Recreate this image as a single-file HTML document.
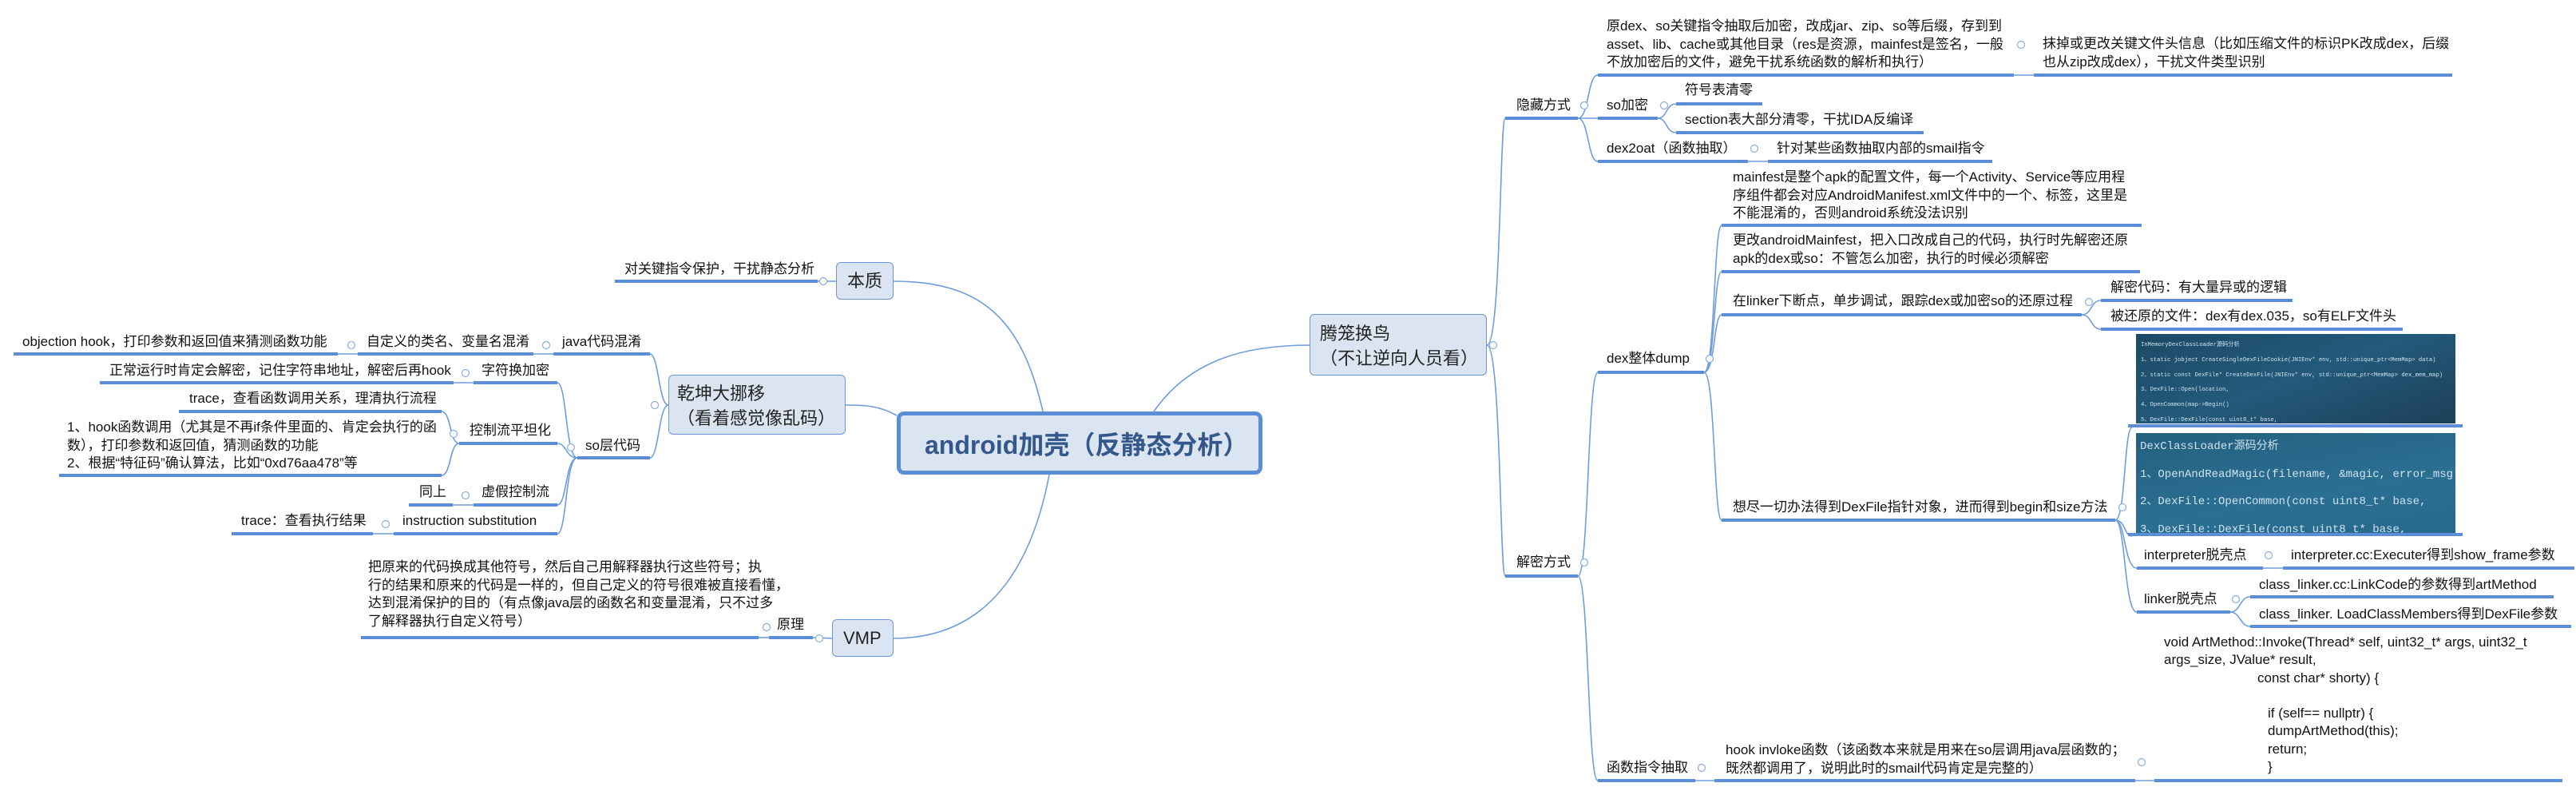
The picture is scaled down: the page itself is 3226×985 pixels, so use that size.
<!DOCTYPE html>
<html><head><meta charset="utf-8">
<style>
html,body{margin:0;padding:0;background:#fff;}
body{width:3226px;height:985px;position:relative;overflow:hidden;font-family:"Liberation Sans","Noto Sans CJK SC",sans-serif;}
.t{position:absolute;font-size:17px;line-height:22.5px;color:#111;white-space:nowrap;}
.u{position:absolute;height:4px;background:#5b8ed6;}
.box{position:absolute;background:#dbe5f1;border:1.5px solid #6b97d8;border-radius:6px;box-sizing:border-box;color:#222;font-size:22px;line-height:30px;white-space:nowrap;}
.img{position:absolute;overflow:hidden;font-family:"Liberation Mono","Noto Sans CJK SC",monospace;color:#cfe3ef;white-space:nowrap;}
svg{position:absolute;left:0;top:0;}
</style></head><body>
<svg width="3226" height="985" fill="none" stroke="#6f9ddc" stroke-width="1.6">
<path d="M1306 515 C1280 400 1230 352 1119 352"/>
<path d="M1314 594 C1290 720 1230 799 1119 799"/>
<path d="M1445 515 C1490 450 1560 432 1640 432"/>
<path d="M1123 520 C1100 507 1080 507 1059 507"/>
<path d="M1047 352 L1024 352"/>
<path d="M837 507 C825 507 825 443 814 443"/>
<path d="M837 507 C825 507 825 573 814 573"/>
<path d="M693 443 L668 443"/>
<path d="M448 443 L423 443"/>
<path d="M723 573 C708 573 710 479 698 479"/>
<path d="M723 573 C708 573 710 555 698 555"/>
<path d="M723 573 C708 573 710 632 698 632"/>
<path d="M723 573 C708 573 710 668 698 668"/>
<path d="M593 479 L568 479"/>
<path d="M575 555 C563 555 565 515 553 515"/>
<path d="M575 555 C563 555 565 595 553 595"/>
<path d="M593 632 L567 632"/>
<path d="M493 668 L467 668"/>
<path d="M1042 799 L1018 798"/>
<path d="M963 798 L950 798"/>
<path d="M1862 432 C1880 432 1878 148 1885 148"/>
<path d="M1862 432 C1880 432 1878 721 1885 721"/>
<path d="M1976 148 C1990 148 1988 94 2001 94"/>
<path d="M1976 148 L2001 148"/>
<path d="M1976 148 C1990 148 1988 202 2001 202"/>
<path d="M2522 94 L2547 94"/>
<path d="M2076 148 C2088 148 2086 130 2099 130"/>
<path d="M2076 148 C2088 148 2086 166 2099 166"/>
<path d="M2189 202 L2214 202"/>
<path d="M1976 721 C1990 721 1988 466 2001 466"/>
<path d="M1976 721 C1990 721 1988 977 2001 977"/>
<path d="M2134 466 C2148 466 2146 282 2156 282"/>
<path d="M2134 466 C2148 466 2146 340 2156 340"/>
<path d="M2134 466 C2148 466 2146 394 2156 394"/>
<path d="M2134 466 C2148 466 2146 651 2156 651"/>
<path d="M2607 394 C2620 394 2618 376 2631 376"/>
<path d="M2607 394 C2620 394 2618 412 2631 412"/>
<path d="M2649 651 C2662 651 2660 535 2670 535"/>
<path d="M2649 651 C2662 651 2660 671 2670 671"/>
<path d="M2649 651 C2662 651 2660 711 2676 711"/>
<path d="M2649 651 C2662 651 2660 766 2676 766"/>
<path d="M2834 711 L2859 711"/>
<path d="M2793 766 C2806 766 2805 747 2818 747"/>
<path d="M2793 766 C2806 766 2805 784 2818 784"/>
<path d="M2123 977 L2147 977"/>
<path d="M2674 977 L2698 977"/>
<g stroke="#8aaee0" stroke-width="1.2" fill="#fff">
<circle cx="1031" cy="352" r="4.5"/><circle cx="820" cy="507" r="4.5"/><circle cx="684" cy="432" r="4.5"/><circle cx="440" cy="432" r="4.5"/>
<circle cx="715" cy="560" r="4.5"/><circle cx="583" cy="467" r="4.5"/><circle cx="568" cy="543" r="4.5"/><circle cx="583" cy="620" r="4.5"/><circle cx="483" cy="656" r="4.5"/><circle cx="1026" cy="799" r="4.5"/><circle cx="960" cy="785" r="4.5"/>
<circle cx="1870" cy="432" r="4.5"/><circle cx="1984" cy="132" r="4.5"/><circle cx="1984" cy="704" r="4.5"/><circle cx="2531" cy="56" r="4.5"/><circle cx="2084" cy="132" r="4.5"/><circle cx="2197" cy="186" r="4.5"/>
<circle cx="2141" cy="449" r="4.5"/><circle cx="2616" cy="378" r="4.5"/><circle cx="2658" cy="635" r="4.5"/><circle cx="2841" cy="695" r="4.5"/><circle cx="2800" cy="750" r="4.5"/><circle cx="2131" cy="961" r="4.5"/><circle cx="2682" cy="954" r="4.5"/>
</g>
</svg>

<div class="box" style="left:1123px;top:515px;width:458px;height:79px;border:5px solid #5b8ed6;border-radius:9px;"><div style="position:absolute;left:30px;top:17px;font-size:32px;line-height:40px;font-weight:bold;color:#34578c;">android加壳（反静态分析）</div></div>
<div class="box" style="left:1047px;top:328px;width:72px;height:47px;"><div style="position:absolute;left:13px;top:8px;">本质</div></div>
<div class="box" style="left:837px;top:469px;width:222px;height:75px;"><div style="position:absolute;left:10px;top:7px;line-height:31px;">乾坤大挪移<br>（看着感觉像乱码）</div></div>
<div class="box" style="left:1042px;top:775px;width:77px;height:47px;"><div style="position:absolute;left:13px;top:8px;">VMP</div></div>
<div class="box" style="left:1640px;top:393px;width:222px;height:77px;"><div style="position:absolute;left:12px;top:8px;line-height:31px;">腾笼换鸟<br>（不让逆向人员看）</div></div>

<div class="t" style="left:782px;top:326px;">对关键指令保护，干扰静态分析</div><div class="u" style="left:770px;width:254px;top:350px;"></div>
<div class="t" style="left:28px;top:417px;">objection hook，打印参数和返回值来猜测函数功能</div><div class="u" style="left:17px;width:406px;top:441px;"></div>
<div class="t" style="left:459px;top:417px;">自定义的类名、变量名混淆</div><div class="u" style="left:448px;width:220px;top:441px;"></div>
<div class="t" style="left:704px;top:417px;">java代码混淆</div><div class="u" style="left:693px;width:121px;top:441px;"></div>
<div class="t" style="left:137px;top:453px;">正常运行时肯定会解密，记住字符串地址，解密后再hook</div><div class="u" style="left:125px;width:443px;top:477px;"></div>
<div class="t" style="left:603px;top:453px;">字符换加密</div><div class="u" style="left:593px;width:105px;top:477px;"></div>
<div class="t" style="left:237px;top:488px;">trace，查看函数调用关系，理清执行流程</div><div class="u" style="left:224px;width:329px;top:513px;"></div>
<div class="t" style="left:84px;top:524px;">1、hook函数调用（尤其是不再if条件里面的、肯定会执行的函<br>数），打印参数和返回值，猜测函数的功能<br>2、根据“特征码”确认算法，比如“0xd76aa478”等</div><div class="u" style="left:74px;width:479px;top:593px;"></div>
<div class="t" style="left:588px;top:528px;">控制流平坦化</div><div class="u" style="left:575px;width:123px;top:553px;"></div>
<div class="t" style="left:733px;top:547px;">so层代码</div><div class="u" style="left:723px;width:91px;top:571px;"></div>
<div class="t" style="left:525px;top:605px;">同上</div><div class="u" style="left:512px;width:55px;top:630px;"></div>
<div class="t" style="left:603px;top:605px;">虚假控制流</div><div class="u" style="left:593px;width:105px;top:630px;"></div>
<div class="t" style="left:302px;top:641px;">trace：查看执行结果</div><div class="u" style="left:290px;width:177px;top:666px;"></div>
<div class="t" style="left:504px;top:641px;">instruction substitution</div><div class="u" style="left:493px;width:205px;top:666px;"></div>
<div class="t" style="left:461px;top:699px;">把原来的代码换成其他符号，然后自己用解释器执行这些符号；执<br>行的结果和原来的代码是一样的，但自己定义的符号很难被直接看懂，<br>达到混淆保护的目的（有点像java层的函数名和变量混淆，只不过多<br>了解释器执行自定义符号）</div><div class="u" style="left:452px;width:498px;top:796px;"></div>
<div class="t" style="left:973px;top:771px;">原理</div><div class="u" style="left:963px;width:55px;top:796px;"></div>

<div class="t" style="left:1899px;top:121px;">隐藏方式</div><div class="u" style="left:1885px;width:91px;top:146px;"></div>
<div class="t" style="left:2012px;top:22px;">原dex、so关键指令抽取后加密，改成jar、zip、so等后缀，存到到<br>asset、lib、cache或其他目录（res是资源，mainfest是签名，一般<br>不放加密后的文件，避免干扰系统函数的解析和执行）</div><div class="u" style="left:2001px;width:521px;top:92px;"></div>
<div class="t" style="left:2558px;top:44px;">抹掉或更改关键文件头信息（比如压缩文件的标识PK改成dex，后缀<br>也从zip改成dex），干扰文件类型识别</div><div class="u" style="left:2547px;width:524px;top:92px;"></div>
<div class="t" style="left:2012px;top:121px;">so加密</div><div class="u" style="left:2001px;width:75px;top:146px;"></div>
<div class="t" style="left:2110px;top:102px;">符号表清零</div><div class="u" style="left:2099px;width:108px;top:128px;"></div>
<div class="t" style="left:2110px;top:139px;">section表大部分清零，干扰IDA反编译</div><div class="u" style="left:2099px;width:310px;top:164px;"></div>
<div class="t" style="left:2012px;top:175px;">dex2oat（函数抽取）</div><div class="u" style="left:2001px;width:188px;top:200px;"></div>
<div class="t" style="left:2225px;top:175px;">针对某些函数抽取内部的smail指令</div><div class="u" style="left:2214px;width:281px;top:200px;"></div>
<div class="t" style="left:2170px;top:211px;">mainfest是整个apk的配置文件，每一个Activity、Service等应用程<br>序组件都会对应AndroidManifest.xml文件中的一个、标签，这里是<br>不能混淆的，否则android系统没法识别</div><div class="u" style="left:2156px;width:526px;top:280px;"></div>
<div class="t" style="left:2170px;top:290px;">更改androidMainfest，把入口改成自己的代码，执行时先解密还原<br>apk的dex或so：不管怎么加密，执行的时候必须解密</div><div class="u" style="left:2156px;width:524px;top:338px;"></div>
<div class="t" style="left:2170px;top:366px;">在linker下断点，单步调试，跟踪dex或加密so的还原过程</div><div class="u" style="left:2156px;width:451px;top:392px;"></div>
<div class="t" style="left:2643px;top:349px;">解密代码：有大量异或的逻辑</div><div class="u" style="left:2631px;width:240px;top:374px;"></div>
<div class="t" style="left:2643px;top:385px;">被还原的文件：dex有dex.035，so有ELF文件头</div><div class="u" style="left:2631px;width:378px;top:410px;"></div>
<div class="t" style="left:2012px;top:438px;">dex整体dump</div><div class="u" style="left:2001px;width:133px;top:464px;"></div>

<div class="img" style="left:2675px;top:418px;width:400px;height:112px;background:linear-gradient(160deg,#1c4a66 0%,#235a7a 50%,#1d3f58 100%);font-size:7.2px;line-height:18.8px;padding:5px 0 0 6px;box-sizing:border-box;">InMemoryDexClassLoader源码分析<br>1、static jobject CreateSingleDexFileCookie(JNIEnv* env, std::unique_ptr&lt;MemMap&gt; data)<br>2、static const DexFile* CreateDexFile(JNIEnv* env, std::unique_ptr&lt;MemMap&gt; dex_mem_map)<br>3、DexFile::Open(location,<br>4、OpenCommon(map-&gt;Begin()<br>5、DexFile::DexFile(const uint8_t* base,</div>
<div class="u" style="left:2665px;width:419px;top:531px;"></div>
<div class="img" style="left:2675px;top:542px;width:400px;height:125px;background:linear-gradient(170deg,#24607f 0%,#2b6f93 60%,#27698c 100%);font-size:14px;line-height:34.5px;padding:0 0 0 5px;box-sizing:border-box;">DexClassLoader源码分析<br>1、OpenAndReadMagic(filename, &amp;magic, error_msg);<br>2、DexFile::OpenCommon(const uint8_t* base,<br>3、DexFile::DexFile(const uint8_t* base,</div>
<div class="u" style="left:2665px;width:419px;top:667px;"></div>

<div class="t" style="left:2170px;top:624px;">想尽一切办法得到DexFile指针对象，进而得到begin和size方法</div><div class="u" style="left:2156px;width:493px;top:649px;"></div>
<div class="t" style="left:1899px;top:693px;">解密方式</div><div class="u" style="left:1885px;width:91px;top:719px;"></div>
<div class="t" style="left:2685px;top:684px;">interpreter脱壳点</div><div class="u" style="left:2676px;width:158px;top:709px;"></div>
<div class="t" style="left:2869px;top:684px;">interpreter.cc:Executer得到show_frame参数</div><div class="u" style="left:2859px;width:365px;top:709px;"></div>
<div class="t" style="left:2685px;top:739px;">linker脱壳点</div><div class="u" style="left:2676px;width:117px;top:764px;"></div>
<div class="t" style="left:2829px;top:721px;">class_linker.cc:LinkCode的参数得到artMethod</div><div class="u" style="left:2818px;width:380px;top:745px;"></div>
<div class="t" style="left:2829px;top:758px;">class_linker. LoadClassMembers得到DexFile参数</div><div class="u" style="left:2818px;width:402px;top:782px;"></div>
<div class="t" style="left:2012px;top:950px;">函数指令抽取</div><div class="u" style="left:2001px;width:122px;top:975px;"></div>
<div class="t" style="left:2161px;top:928px;">hook invloke函数（该函数本来就是用来在so层调用java层函数的；<br>既然都调用了，说明此时的smail代码肯定是完整的）</div><div class="u" style="left:2147px;width:527px;top:975px;"></div>
<div class="t" style="left:2710px;top:793px;line-height:22.3px;">void ArtMethod::Invoke(Thread* self, uint32_t* args, uint32_t<br>args_size, JValue* result,<br><span style="padding-left:117px">const char* shorty) {</span><br><br><span style="padding-left:130px">if (self== nullptr) {</span><br><span style="padding-left:130px">dumpArtMethod(this);</span><br><span style="padding-left:130px">return;</span><br><span style="padding-left:130px">}</span></div><div class="u" style="left:2698px;width:511px;top:975px;"></div>
</body></html>
